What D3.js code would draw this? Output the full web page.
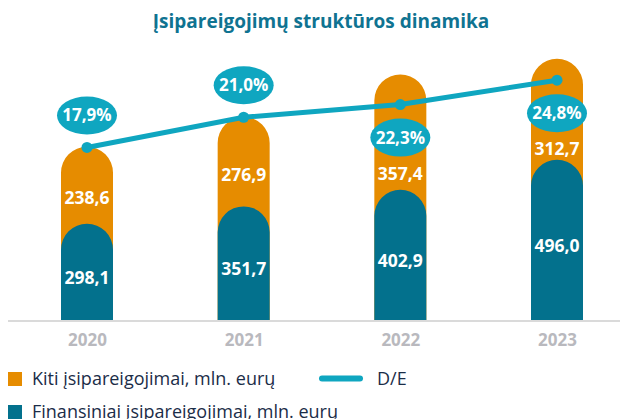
<!DOCTYPE html>
<html lang="lt">
<head>
<meta charset="UTF-8">
<title>Įsipareigojimų struktūros dinamika</title>
<script src="https://d3js.org/d3.v7.min.js"></script>
<style>
  body { margin: 0; background: #fff; }
  svg { display: block; font-family: "Open Sans", "Noto Sans", sans-serif; }
</style>
</head>
<body>
<svg width="624" height="419"></svg>
<script>
// data
const years = ["2020", "2021", "2022", "2023"];
const financial = [298.1, 351.7, 402.9, 496.0];   // Finansiniai įsipareigojimai
const other = [238.6, 276.9, 357.4, 312.7];       // Kiti įsipareigojimai
const debtEquity = [17.9, 21.0, 22.3, 24.8];      // D/E, %

const title = "Įsipareigojimų struktūros dinamika";
const legendOther = "Kiti įsipareigojimai, mln. eurų";
const legendFin = "Finansiniai įsipareigojimai, mln. eurų";
const legendDE = "D/E";

const colOrange = "#e68c00",
      colBlue = "#03718d",
      colTeal = "#0fa6c0",
      colText = "#1b2d48";

const fmt = v => d3.format(".1f")(v).replace(".", ",");

const svg = d3.select("svg");
const baseY = 320;
const barW = 52, r = barW / 2;

const x = d3.scalePoint().domain(years).range([87, 557]);
const y = d3.scaleLinear().domain([0, 800]).range([baseY, baseY - 258.4]);
const yDE = d3.scaleLinear().domain([0, 25]).range([322, 78.25]);

// title
svg.append("text")
   .attr("x", 321).attr("y", 28)
   .attr("text-anchor", "middle")
   .attr("font-size", 19).attr("font-weight", 700)
   .attr("fill", "#0f7391")
   .text(title);

// base line
svg.append("line")
   .attr("x1", 8).attr("x2", 620)
   .attr("y1", 321).attr("y2", 321)
   .attr("stroke", "#dadada").attr("stroke-width", 2);

// bar shape: square bottom, round top
function pill(cx, top) {
  const p = d3.path();
  p.moveTo(cx - r, baseY);
  p.lineTo(cx - r, top + r);
  p.arc(cx, top + r, r, Math.PI, 0);
  p.lineTo(cx + r, baseY);
  p.closePath();
  return p.toString();
}

const rows = years.map((yr, i) => ({
  yr, fin: financial[i], oth: other[i], de: debtEquity[i],
  total: financial[i] + other[i]
}));

const g = svg.append("g");

g.selectAll(".bar-total").data(rows).join("path")
 .attr("class", "bar-total")
 .attr("d", d => pill(x(d.yr), y(d.total)))
 .attr("fill", colOrange);

g.selectAll(".bar-fin").data(rows).join("path")
 .attr("class", "bar-fin")
 .attr("d", d => pill(x(d.yr), y(d.fin)))
 .attr("fill", colBlue);

// year labels
const xAxis = d3.axisBottom(x).tickSize(0).tickPadding(0);
svg.append("g")
   .attr("transform", "translate(0,334)")
   .call(xAxis)
   .call(a => a.select(".domain").remove())
   .selectAll("text")
   .attr("font-family", "'Open Sans', sans-serif")
   .attr("font-size", 17).attr("font-weight", 700)
   .attr("fill", "#b9b9be");

// D/E line
const line = d3.line().x(d => x(d.yr)).y(d => yDE(d.de));
g.append("path")
 .datum(rows)
 .attr("d", line)
 .attr("fill", "none")
 .attr("stroke", colTeal)
 .attr("stroke-width", 5);

g.selectAll(".de-dot").data(rows).join("circle")
 .attr("class", "de-dot")
 .attr("cx", d => x(d.yr)).attr("cy", d => yDE(d.de))
 .attr("r", 5.5).attr("fill", colTeal);

// percent bubbles: above the point when it sits at the bar top, else below
const bubbleY = d => {
  const py = yDE(d.de), top = y(d.total);
  return (py - top < 10) ? py - 32 : py + 33;
};

g.selectAll(".de-bubble").data(rows).join("ellipse")
 .attr("class", "de-bubble")
 .attr("cx", d => x(d.yr)).attr("cy", bubbleY)
 .attr("rx", 30).attr("ry", 19)
 .attr("fill", colTeal);

g.selectAll(".de-label").data(rows).join("text")
 .attr("class", "de-label")
 .attr("x", d => x(d.yr)).attr("y", bubbleY)
 .attr("dy", "0.35em")
 .attr("text-anchor", "middle")
 .attr("font-size", 17).attr("font-weight", 700)
 .attr("fill", "#fff")
 .text(d => fmt(d.de) + "%");

// value labels
g.selectAll(".fin-label").data(rows).join("text")
 .attr("class", "fin-label")
 .attr("x", d => x(d.yr))
 .attr("y", d => (y(d.fin) + baseY) / 2 + 6)
 .attr("dy", "0.35em")
 .attr("text-anchor", "middle")
 .attr("font-size", 17.5).attr("font-weight", 700)
 .attr("fill", "#fff")
 .text(d => fmt(d.fin));

g.selectAll(".oth-label").data(rows).join("text")
 .attr("class", "oth-label")
 .attr("x", d => x(d.yr))
 .attr("y", d => {
   const mid = (y(d.total) + r + y(d.fin)) / 2;
   const by = bubbleY(d);
   return by > yDE(d.de) ? Math.max(mid, by + 19 + 17) : mid;
 })
 .attr("dy", "0.35em")
 .attr("text-anchor", "middle")
 .attr("font-size", 17.5).attr("font-weight", 700)
 .attr("fill", "#fff")
 .text(d => fmt(d.oth));

// legend
const lg = svg.append("g").attr("font-size", 18).attr("fill", colText);
lg.append("rect").attr("x", 8).attr("y", 372).attr("width", 14).attr("height", 14).attr("fill", colOrange);
lg.append("text").attr("x", 32).attr("y", 379).attr("dy", "0.35em").text(legendOther);
lg.append("line").attr("x1", 322).attr("x2", 360).attr("y1", 378.5).attr("y2", 378.5)
  .attr("stroke", colTeal).attr("stroke-width", 6).attr("stroke-linecap", "round");
lg.append("text").attr("x", 377).attr("y", 379).attr("dy", "0.35em").text(legendDE);
lg.append("rect").attr("x", 8).attr("y", 405).attr("width", 14).attr("height", 14).attr("fill", colBlue);
lg.append("text").attr("x", 32).attr("y", 412).attr("dy", "0.35em").text(legendFin);
</script>
</body>
</html>
